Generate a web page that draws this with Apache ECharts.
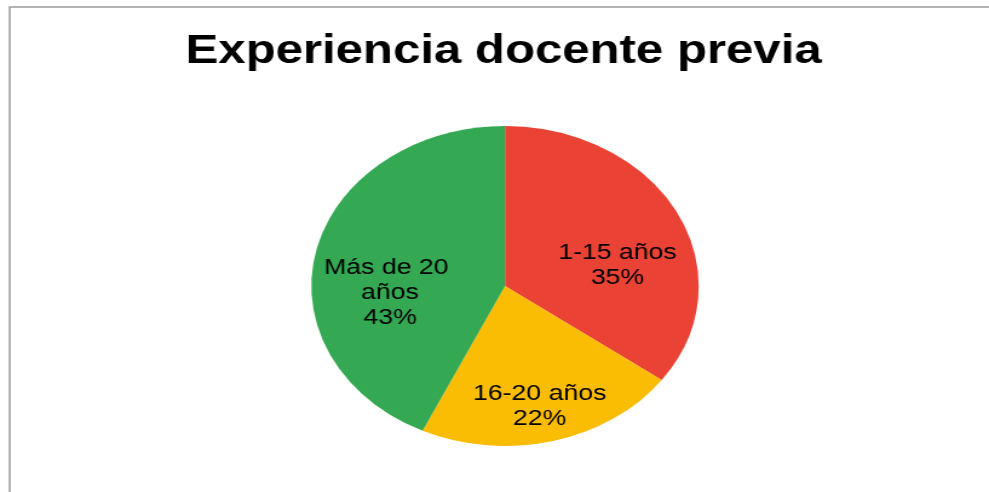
<!DOCTYPE html>
<html>
<head>
<meta charset="utf-8">
<script src="https://cdn.jsdelivr.net/npm/echarts@6/dist/echarts.min.js"></script>
<style>
  html, body { margin: 0; padding: 0; background: #fff; overflow: hidden; }
  #wrap { width: 989px; height: 492px; position: relative; overflow: hidden; }
  #chart { width: 817px; height: 492px; transform: scaleX(1.2105); transform-origin: 0 0; }
</style>
</head>
<body>
<div id="wrap"><div id="chart"></div></div>
<script>
// Data
const chartTitle = 'Experiencia docente previa';
const categories = ['1-15 años', '16-20 años', 'Más de 20 años'];
const values = [35, 22, 43];
const colors = ['#EA4335', '#FBBC04', '#34A853'];

// label nudges (style, in unscaled pixels)
const labelNudge = [[19, 17], [8, 40], [-14, 25]];

const chart = echarts.init(document.getElementById('chart'), null, { renderer: 'canvas' });
const FONT = '"Liberation Sans", Arial, sans-serif';

const option = {
  backgroundColor: '#ffffff',
  animation: false,
  title: {
    text: chartTitle,
    left: 411,
    textAlign: 'center',
    top: 26,
    textStyle: { fontFamily: FONT, fontSize: 40.6, fontWeight: 'bold', color: '#000' }
  },
  graphic: [{
    type: 'polyline',
    shape: { points: [[817, 7], [8, 7], [8, 492]] },
    style: { stroke: '#9a9a9a', lineWidth: 1.5, fill: null },
    silent: true
  }],
  series: [{
    type: 'pie',
    center: [417.2, 286],
    radius: 160,
    startAngle: 90,
    clockwise: true,
    avoidLabelOverlap: false,
    itemStyle: { borderWidth: 0 },
    label: {
      show: true,
      position: 'inside',
      fontFamily: FONT,
      fontSize: 22,
      lineHeight: 25,
      color: '#000',
      width: 120,
      overflow: 'break',
      align: 'center',
      formatter: p => p.name + '\n' + Math.round(p.percent) + '%'
    },
    labelLine: { show: false },
    emphasis: { disabled: true },
    data: categories.map((c, i) => ({
      name: c,
      value: values[i],
      itemStyle: { color: colors[i] },
      label: { offset: labelNudge[i] }
    }))
  }]
};
chart.setOption(option);
</script>
</body>
</html>
